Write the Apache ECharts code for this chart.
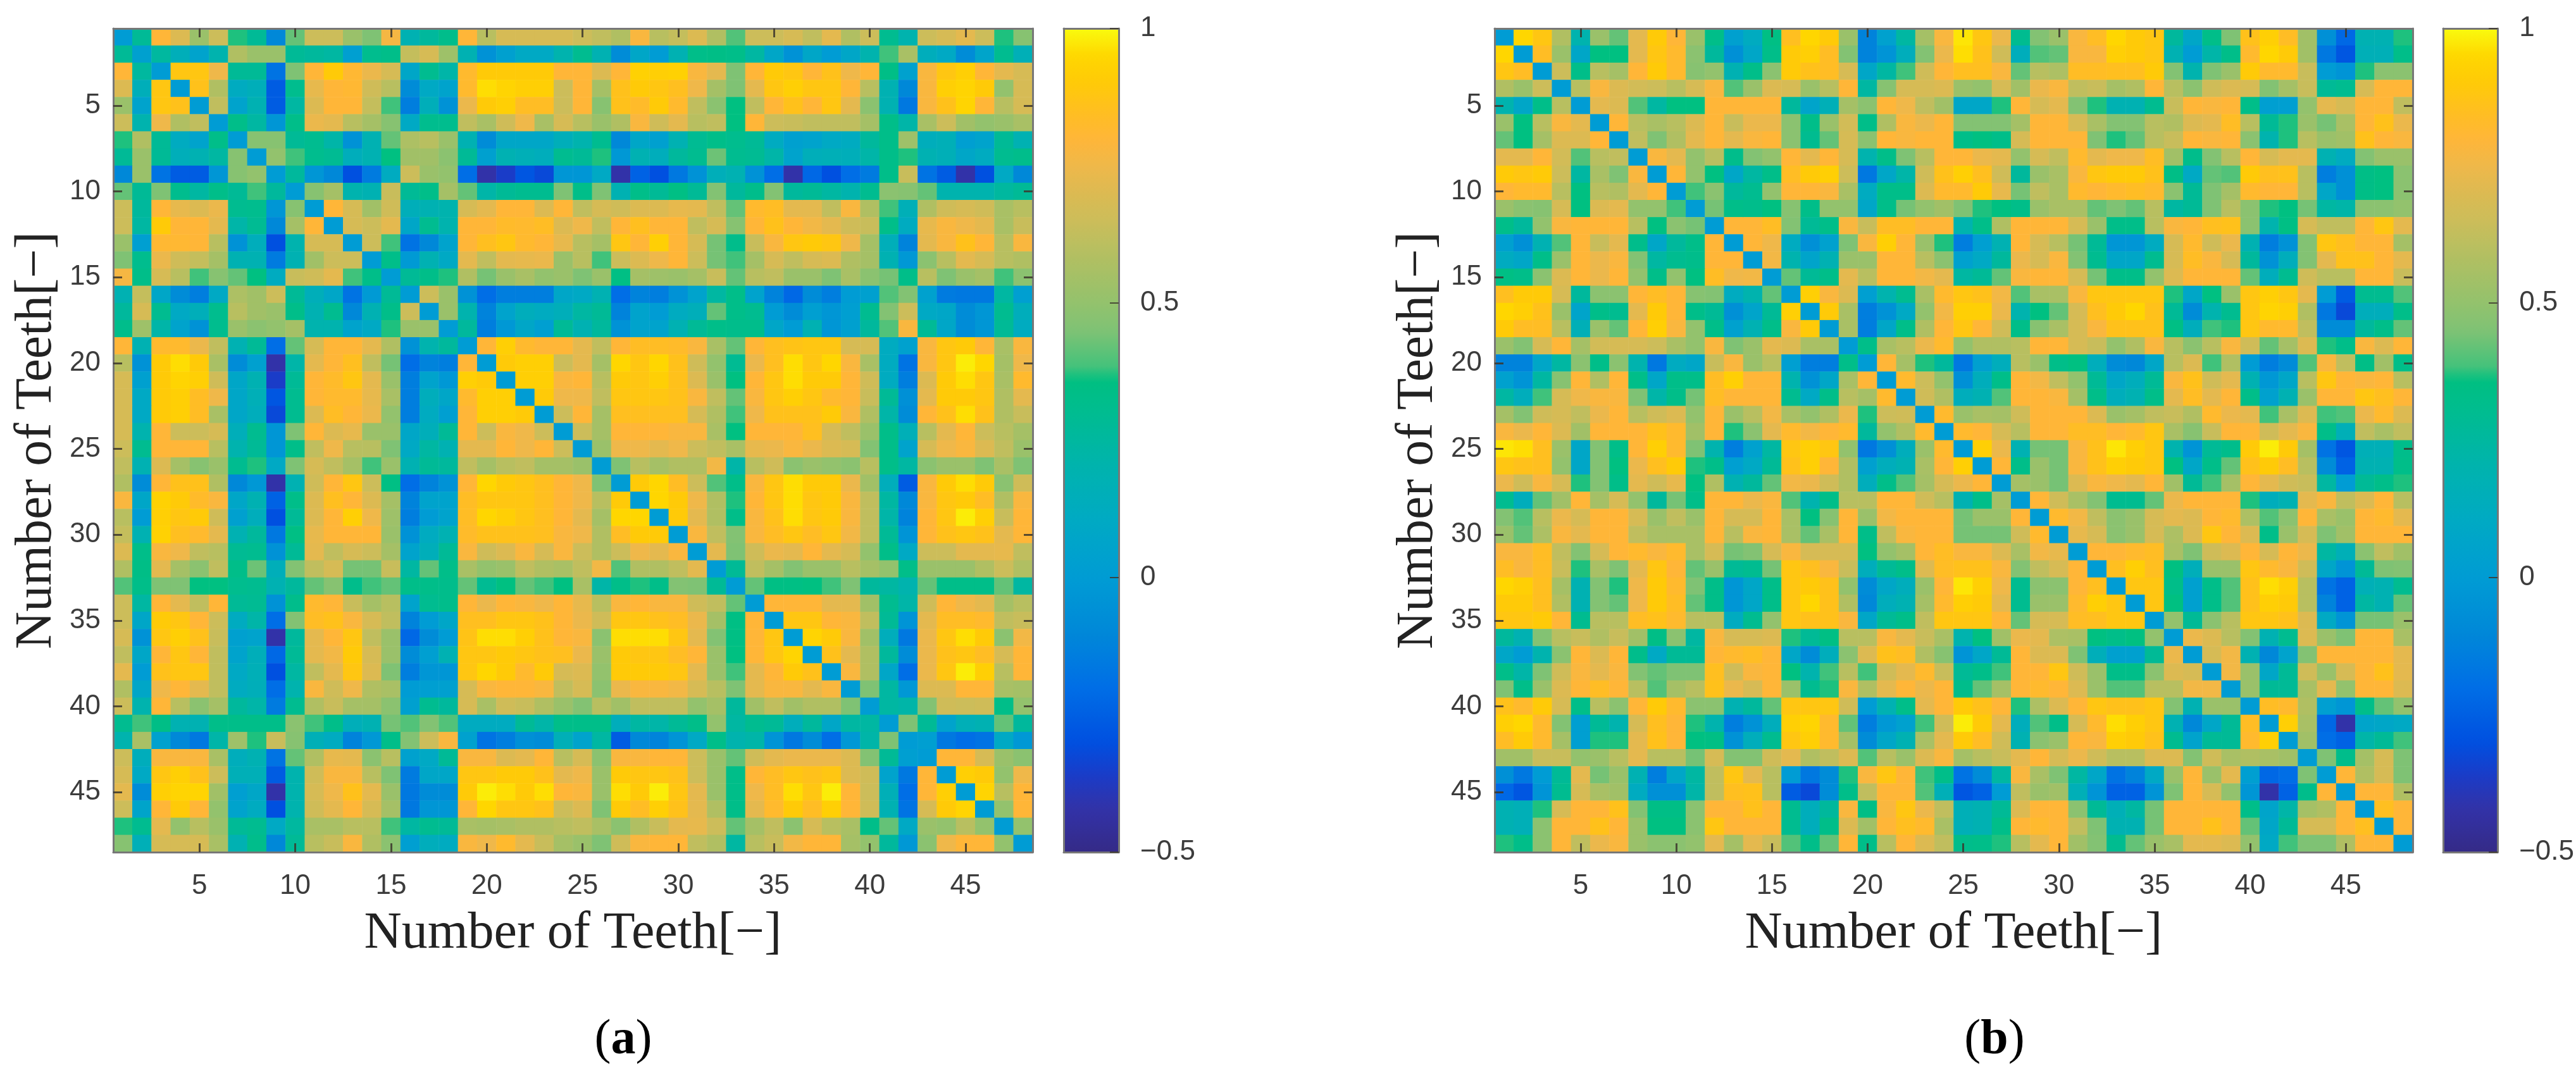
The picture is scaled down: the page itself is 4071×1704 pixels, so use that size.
<!DOCTYPE html>
<html><head><meta charset="utf-8"><style>html,body{margin:0;padding:0;background:#fff}#c{width:4071px;height:1704px}</style>
<script src="https://cdn.jsdelivr.net/npm/echarts@6/dist/echarts.min.js"></script></head><body><div id="c"></div>
<script>
// Lower triangles of the symmetric matrices, in hundredths.
const lowerA = [
[0],
[28,3],
[80,25,0],
[70,15,88,0],
[52,5,88,86,0],
[65,20,75,58,62,0],
[37,58,28,12,5,33,0],
[28,52,28,15,18,24,47,0],
[-10,52,-18,-26,-26,-3,47,50,0],
[42,28,45,31,24,33,28,38,26,0],
[65,26,80,73,70,74,30,31,-3,47,0],
[65,24,90,80,80,72,22,29,-10,55,80,0],
[52,2,81,81,80,60,-5,14,-30,20,68,68,0],
[45,31,74,66,63,55,18,18,-15,18,54,65,65,0],
[77,33,68,60,38,47,42,36,12,64,66,72,38,33,0],
[18,63,8,-8,-14,10,57,54,65,28,15,8,-18,-1,28,0],
[26,68,30,10,15,31,60,54,52,33,18,30,-10,18,33,65,0],
[32,53,22,5,-5,31,52,48,50,55,20,20,5,10,37,52,52,0],
[80,18,82,82,74,62,18,28,-20,42,68,80,80,72,58,-5,20,26,0],
[60,-5,90,96,90,56,-8,3,-42,22,72,80,85,62,44,-20,-12,-14,80,0],
[68,3,90,94,92,66,8,18,-36,28,80,83,88,72,52,-14,5,-2,92,90,0],
[68,10,90,92,84,75,8,16,-28,30,80,82,82,73,56,-14,14,8,82,92,92,0],
[68,10,90,92,84,56,8,14,-32,30,70,84,80,74,50,-14,12,2,80,92,92,90,0],
[68,20,80,65,65,68,15,30,-3,45,80,70,73,52,52,8,15,28,80,65,78,75,65,0],
[65,30,80,80,80,60,20,28,-3,33,62,75,60,60,45,10,24,18,72,72,80,75,80,65,0],
[62,18,70,55,47,52,30,37,10,45,68,62,55,38,52,18,28,26,62,55,60,62,55,55,52,0],
[58,-8,80,86,86,58,-10,-2,-42,18,66,80,88,65,35,-20,-12,-5,80,95,90,88,85,80,75,45,0],
[78,8,93,90,83,78,8,18,-24,33,70,85,80,70,55,-12,5,5,84,88,88,88,85,80,75,60,90,0],
[60,0,92,88,90,66,3,14,-30,28,70,80,92,75,53,-14,0,5,84,95,92,88,85,80,72,55,95,95,0],
[63,18,93,85,82,72,18,26,-16,35,73,80,80,80,52,-5,12,18,83,86,86,86,85,78,75,58,84,90,90,0],
[70,33,78,75,62,60,29,30,-5,28,72,62,68,65,55,5,15,28,78,66,70,78,68,78,65,58,65,75,72,78,0],
[58,34,72,55,48,62,33,43,15,46,62,68,44,44,64,24,42,33,56,50,52,62,58,56,62,76,40,58,58,62,72,0],
[40,33,45,45,36,36,31,30,18,26,42,47,32,38,42,33,33,32,42,29,36,42,38,36,56,22,33,37,33,46,45,28,0],
[65,24,80,72,62,80,28,29,-5,32,82,80,64,55,60,5,30,32,80,74,80,78,75,80,73,60,78,80,78,78,66,62,42,0],
[65,8,90,88,80,65,12,22,-20,46,84,86,78,68,62,-12,0,8,85,85,88,88,86,80,74,66,88,88,86,84,74,55,35,80,0],
[68,-5,88,92,86,64,3,5,-42,26,72,80,88,62,52,-22,-8,0,87,96,96,92,86,80,78,48,96,96,96,88,72,46,35,80,88,0],
[62,8,80,88,80,62,5,15,-22,28,72,76,90,68,52,-8,2,18,88,88,90,88,86,85,74,52,90,88,88,84,80,52,36,80,88,94,0],
[72,0,86,88,88,62,10,16,-30,24,62,72,88,70,45,-14,-3,-3,88,95,90,82,90,68,70,50,90,90,90,88,72,52,38,72,80,90,86,0],
[58,8,75,80,72,62,12,15,-20,20,78,66,75,58,56,0,2,3,68,78,80,80,78,62,68,48,74,78,78,76,68,60,45,72,78,78,72,78,0],
[65,20,80,60,48,55,26,22,-15,30,58,64,55,55,48,3,30,26,68,56,66,64,58,52,46,60,54,62,62,62,50,55,26,54,62,54,58,58,45,0],
[30,38,34,18,18,33,33,33,33,48,38,33,15,18,44,40,46,40,12,12,12,28,22,33,33,33,14,24,22,28,33,50,24,30,28,14,26,8,24,24,0],
[20,56,4,-10,-16,22,53,37,64,47,16,12,-12,-2,33,46,65,78,4,-18,-14,-6,-8,16,5,24,-26,-10,-12,-4,10,33,20,22,-4,-16,-8,-20,-2,22,45,0],
[65,14,78,78,78,56,14,18,-18,42,58,73,72,48,60,4,10,28,78,78,70,72,80,60,68,48,78,78,80,80,65,52,42,66,72,74,74,74,70,46,28,2,0],
[68,10,88,92,86,65,16,16,-26,20,66,78,78,60,45,-15,8,8,88,88,90,90,86,72,75,52,90,88,88,86,65,52,33,80,84,88,86,88,70,66,5,-16,80,0],
[72,-8,92,94,94,54,2,8,-42,20,68,75,86,72,52,-16,-8,-8,90,98,96,90,96,80,78,52,96,90,98,88,72,52,33,75,84,96,88,98,80,65,16,-20,80,92,0],
[65,6,80,90,80,50,5,12,-30,20,66,72,80,68,55,-16,-3,-3,80,95,88,88,86,65,70,45,90,84,92,86,72,58,33,72,82,90,84,92,80,66,18,-18,68,90,94,0],
[37,30,72,50,60,52,28,30,10,25,56,56,60,60,38,24,30,28,56,55,56,58,58,60,62,56,48,58,64,72,73,65,42,55,62,48,68,60,56,33,42,10,52,50,60,50,0],
[47,16,68,68,68,56,18,32,-10,28,60,64,78,58,48,2,14,12,78,75,82,72,64,55,52,45,66,78,80,80,62,58,24,60,64,76,80,80,55,50,26,-2,48,75,80,80,50,0]
];
const lowerB = [
[0],
[95,0],
[88,84,0],
[58,52,65,0],
[20,8,33,60,0],
[52,36,60,78,72,0],
[42,36,55,70,70,80,0],
[72,72,80,67,40,60,62,0],
[90,88,90,65,24,56,45,78,0],
[80,82,82,60,36,60,58,72,80,0],
[52,48,47,68,36,70,72,50,50,38,0],
[33,26,50,78,80,80,80,60,36,48,44,0],
[3,-6,18,40,80,64,72,32,8,26,33,80,0],
[12,8,33,52,80,74,78,46,24,30,32,80,80,0],
[35,33,48,70,80,74,80,50,33,50,36,84,75,76,0],
[85,90,90,68,26,48,48,80,84,80,47,46,12,20,42,0],
[95,92,86,52,6,33,30,72,90,80,33,28,-6,6,28,92,0],
[90,84,84,60,16,52,42,80,92,78,50,33,4,18,33,78,90,0],
[52,46,68,80,55,67,68,68,65,56,50,78,45,52,72,70,56,56,0],
[-12,-12,8,24,48,33,48,20,-16,12,8,64,78,52,60,2,-14,-14,33,0],
[4,-4,24,47,80,58,80,33,8,33,33,84,92,80,80,20,-5,8,56,80,0],
[24,14,38,68,75,78,78,45,22,33,44,84,80,80,80,30,10,33,60,55,82,0],
[55,46,66,68,62,74,80,60,66,70,50,80,52,60,76,56,50,58,74,37,65,66,0],
[78,74,80,70,54,80,80,80,86,82,54,80,37,48,72,82,76,80,82,26,50,58,82,0],
[97,96,85,52,8,46,33,80,92,82,45,20,-14,4,24,88,92,88,50,-16,-6,14,52,82,0],
[88,86,85,50,8,46,36,74,85,90,37,33,2,10,28,86,92,80,58,3,14,18,56,80,92,0],
[74,66,78,68,37,46,33,72,66,73,36,58,18,26,42,76,74,66,58,14,33,40,55,68,74,80,0],
[30,14,42,54,80,55,68,50,26,44,33,80,80,74,78,40,20,33,60,60,80,80,66,60,18,33,55,0],
[46,40,60,74,68,80,80,68,52,62,52,80,68,68,80,56,36,47,80,52,76,80,80,80,44,52,52,80,0],
[52,42,57,78,72,80,80,62,56,56,56,80,60,78,80,56,42,56,80,33,62,78,80,80,44,44,44,66,82,0],
[78,78,84,62,46,68,80,82,78,82,56,68,44,46,68,78,68,68,68,36,50,55,80,84,78,78,70,56,76,73,0],
[84,78,84,64,37,56,45,72,88,80,42,52,28,30,44,88,85,78,64,14,28,33,70,84,86,86,78,46,62,68,80,0],
[95,92,85,55,18,46,37,75,90,82,45,33,-3,8,33,88,90,86,50,-8,8,14,52,80,97,92,75,30,48,48,80,85,0],
[90,90,85,58,18,46,42,75,90,84,42,33,-3,8,33,88,95,86,58,-10,14,18,55,82,92,90,72,30,52,52,82,92,88,0],
[88,88,90,80,30,60,60,84,86,82,60,60,12,30,50,88,86,86,78,8,28,33,62,88,88,88,80,42,68,68,84,85,88,88,0],
[26,18,46,60,64,58,64,54,34,48,24,78,68,68,70,37,28,35,60,60,78,72,64,56,20,36,54,74,72,57,56,36,33,36,50,0],
[8,0,20,48,80,70,80,32,10,28,28,80,82,84,80,8,-8,14,48,70,86,84,58,47,-4,8,28,80,70,70,45,15,3,3,28,74,0],
[33,22,45,66,78,72,78,46,42,45,45,85,66,78,80,36,20,38,60,38,66,72,82,64,28,33,38,80,80,88,66,52,33,33,48,70,68,0],
[45,33,52,70,80,84,80,60,40,55,60,86,74,68,80,52,30,37,78,58,72,80,74,80,32,42,55,80,82,80,70,52,40,40,60,60,76,76,0],
[86,82,90,68,33,60,48,80,90,82,48,48,18,26,42,88,88,88,66,0,18,33,72,80,90,86,80,37,57,70,80,88,86,86,88,46,18,52,52,0],
[92,95,82,46,2,28,20,68,85,80,37,20,-14,-5,14,92,94,82,42,-14,-2,4,38,66,98,90,72,14,40,33,68,82,96,92,88,18,-10,8,28,84,0],
[84,90,82,55,2,37,37,72,86,80,36,35,-5,14,30,88,92,82,55,-8,8,18,56,72,90,84,66,18,48,52,80,78,92,90,86,30,5,28,28,82,92,0],
[54,54,64,64,50,52,60,72,60,60,44,68,46,46,66,72,58,62,70,40,60,52,70,78,55,60,64,72,80,68,74,66,60,60,70,70,46,66,56,58,56,54,0],
[-6,-16,0,28,72,44,52,18,-14,8,24,62,88,72,60,0,-16,-8,37,78,88,80,38,33,-18,-8,24,78,56,45,24,8,-18,-12,10,52,80,52,72,2,-22,-20,45,0],
[-22,-28,-4,30,68,56,54,12,-6,-6,22,62,85,86,60,-26,-32,-8,33,62,80,80,40,16,-28,-24,0,62,52,54,16,-4,-24,-24,-4,45,80,68,50,-3,-42,-24,32,80,0],
[18,16,37,68,80,80,86,46,34,34,48,80,80,86,80,30,14,26,78,34,78,88,74,62,16,18,28,70,80,80,48,28,16,24,44,80,80,80,80,33,6,22,55,58,80,0],
[18,16,48,80,80,86,80,52,36,36,48,88,80,80,80,30,14,33,70,54,80,85,82,56,16,18,33,80,82,80,62,45,18,18,44,80,80,86,80,42,8,28,68,68,80,85,0],
[37,33,48,80,62,74,78,52,48,48,50,72,55,72,64,40,33,42,80,33,60,80,70,62,32,33,37,60,72,80,54,46,30,42,52,56,72,72,70,50,10,38,45,45,58,80,80,0]
];
const teeth = Array.from({length:48},(_,i)=>String(i+1));
const axisTitle = 'Number of Teeth[\u2212]';
const colorTicks = [-0.5,0,0.5,1];

// colormap stops: value, colour
const stops = [[-0.5,'#352a87'],[-0.42,'#3232a8'],[-0.36,'#1a3cc8'],[-0.3,'#0050e0'],[-0.2,'#006ee6'],[-0.1,'#0088d8'],[0,'#009cd4'],[0.1,'#00a9c4'],[0.2,'#00b3ae'],[0.3,'#00bc90'],[0.365,'#00c080'],[0.375,'#3cc27c'],[0.45,'#7fc274'],[0.5,'#93c26d'],[0.55,'#a5c066'],[0.6,'#b8bf60'],[0.65,'#ccbd5a'],[0.7,'#dcba52'],[0.75,'#efb84a'],[0.8,'#ffb638'],[0.85,'#ffbf20'],[0.9,'#ffca08'],[0.95,'#ffd600'],[1,'#f9fb0e']];
function hex(c){return [1,3,5].map(i=>parseInt(c.substr(i,2),16));}
function ramp(){const out=[];for(let k=0;k<=300;k++){const v=-0.5+k*0.005;let j=0;while(j<stops.length-2&&v>stops[j+1][0])j++;
  const a=stops[j],b=stops[j+1],t=Math.max(0,Math.min(1,(v-a[0])/(b[0]-a[0])));const A=hex(a[1]),B=hex(b[1]);
  out.push('rgb('+A.map((x,i)=>Math.round(x+(B[i]-x)*t)).join(',')+')');}return out;}
const colormap = ramp();

function cells(lower){const d=[];lower.forEach((row,i)=>{if(row.length!==i+1)console.error('row '+(i+1)+' has '+row.length);row.forEach((v,j)=>{d.push([j,i,v/100]);if(i!==j)d.push([i,j,v/100]);});});return d;}

const FRAME='#777', TICK='rgba(60,55,45,0.85)', TXT='#3c3c3c';
const every5 = i => (i+1)%5===0;
const tickFont = {fontFamily:'"Liberation Sans Narrow","Liberation Sans",sans-serif',fontSize:44,color:TXT};
const nameFont = {fontFamily:'"Liberation Serif",serif',fontSize:82,color:'#222',fontWeight:'normal'};
const line = {show:true,onZero:false,lineStyle:{color:FRAME,width:3}};
const ticks = {show:true,inside:true,alignWithLabel:true,length:14,interval:every5,lineStyle:{color:TICK,width:3}};

const grid=[],xAxis=[],yAxis=[],series=[],visualMap=[];
function heat(left,width,lower){
  const g=grid.length;
  grid.push({left,top:45,width,height:1302,containLabel:false});
  const xi=xAxis.length, yi=yAxis.length;
  xAxis.push({type:'category',gridIndex:g,data:teeth,position:'bottom',z:10,axisLine:line,axisTick:ticks,splitLine:{show:false},
    axisLabel:Object.assign({interval:every5,margin:32},tickFont),name:axisTitle,nameLocation:'middle',nameGap:88,nameTextStyle:nameFont});
  xAxis.push({type:'category',gridIndex:g,data:teeth,position:'top',z:10,axisLine:line,axisTick:ticks,axisLabel:{show:false},splitLine:{show:false}});
  yAxis.push({type:'category',gridIndex:g,data:teeth,inverse:true,position:'left',z:10,axisLine:line,axisTick:ticks,splitLine:{show:false},
    axisLabel:Object.assign({interval:every5,margin:20},tickFont),name:axisTitle,nameLocation:'middle',nameGap:80,nameTextStyle:nameFont});
  yAxis.push({type:'category',gridIndex:g,data:teeth,inverse:true,position:'right',z:10,axisLine:line,axisTick:ticks,axisLabel:{show:false},splitLine:{show:false}});
  series.push({type:'heatmap',xAxisIndex:xi,yAxisIndex:yi,data:cells(lower),progressive:0,animation:false,emphasis:{disabled:true},itemStyle:{borderWidth:0}});
  return series.length-1;
}
function bar(left,idx){
  const width=87,g=grid.length;
  grid.push({left,top:45,width,height:1302,containLabel:false});
  visualMap.push({type:'continuous',seriesIndex:idx,min:-0.5,max:1,dimension:2,left,top:45,padding:0,itemWidth:width,itemHeight:1302,
    calculable:false,text:null,showLabel:false,formatter:()=>'',inRange:{color:colormap},z:5,hoverLink:false});
  const none={show:false};
  xAxis.push({type:'value',gridIndex:g,min:0,max:1,position:'bottom',z:10,axisLine:line,axisTick:none,axisLabel:none,splitLine:none});
  xAxis.push({type:'value',gridIndex:g,min:0,max:1,position:'top',z:10,axisLine:line,axisTick:none,axisLabel:none,splitLine:none});
  yAxis.push({type:'value',gridIndex:g,min:colorTicks[0],max:colorTicks[3],interval:0.5,position:'right',z:10,axisLine:line,splitLine:none,
    axisTick:{show:true,inside:true,length:14,lineStyle:{color:TICK,width:2}},
    axisLabel:Object.assign({margin:34,formatter:v=>v<0?'\u2212'+(-v):String(v)},tickFont)});
  yAxis.push({type:'value',gridIndex:g,min:colorTicks[0],max:colorTicks[3],interval:0.5,position:'left',z:10,axisLine:line,axisTick:none,axisLabel:none,splitLine:none});
}
const sa=heat(179,1453,lowerA); bar(1681,sa);
const sb=heat(2362,1451,lowerB); bar(3861,sb);

function caption(t,x){const base={fontFamily:'"Liberation Serif",serif',fontSize:78,color:'#000',lineHeight:90};
  return {text:'{p|(}{b|'+t+'}{p|)}',left:x,top:1600,textAlign:'center',padding:0,
  textStyle:{fontWeight:'normal',rich:{p:Object.assign({fontWeight:'normal'},base),b:Object.assign({fontWeight:'bold'},base)}}};}

const chart=echarts.init(document.getElementById('c'),null,{renderer:'canvas'});
chart.setOption({animation:false,backgroundColor:'#fff',title:[caption('a',985),caption('b',3152)],grid,xAxis,yAxis,series,visualMap});
</script></body></html>
